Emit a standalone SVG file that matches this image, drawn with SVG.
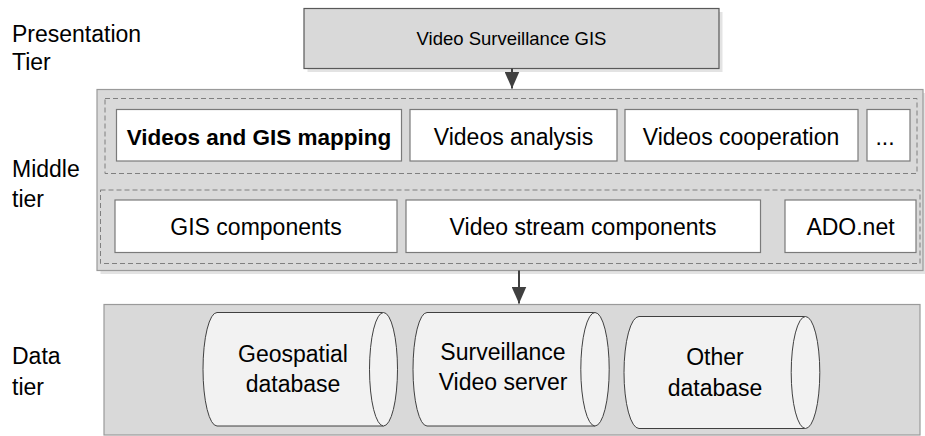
<svg xmlns="http://www.w3.org/2000/svg" width="925" height="436" viewBox="0 0 925 436">
  <style>
    .lbl { font-family: "Liberation Sans", Arial, sans-serif; font-size: 23px; fill: #000; }
    .txt { font-family: "Liberation Sans", Arial, sans-serif; font-size: 23px; fill: #000; text-anchor: middle; }
    .bold { font-weight: bold; font-size: 22.5px; }
    .tier { fill: #d9d9d9; stroke: #9a9a9a; stroke-width: 1.2; }
    .shadow { fill: #e3e3e3; stroke: none; }
    .comp { fill: #ffffff; stroke: #7a7a7a; stroke-width: 1.2; }
    .dash { fill: none; stroke: #7f7f7f; stroke-width: 1; stroke-dasharray: 5 3; }
    .db { fill: #f2f2f2; stroke: #404040; stroke-width: 1; }
    .link { stroke: #404040; stroke-width: 2; fill: none; }
  </style>
  <defs>
    <!-- filled arrowhead, tip at the end of the line -->
    <marker id="arrow" markerUnits="userSpaceOnUse" markerWidth="17" markerHeight="15" viewBox="0 0 17 15" refX="17" refY="7.5" orient="auto">
      <path d="M0,0 L17,7.5 L0,15 Z" fill="#404040"/>
    </marker>
  </defs>

  <!-- tier captions -->
  <g id="tier-labels">
    <text class="lbl" x="12" y="41.5">Presentation</text>
    <text class="lbl" x="12" y="70">Tier</text>
    <text class="lbl" x="12" y="177">Middle</text>
    <text class="lbl" x="12" y="207">tier</text>
    <text class="lbl" x="12" y="364">Data</text>
    <text class="lbl" x="12" y="395">tier</text>
  </g>

  <!-- presentation tier -->
  <g id="video-surveillance-gis">
    <rect class="shadow" x="307.5" y="12" width="415" height="60"/>
    <rect x="304" y="8.5" width="415" height="60" fill="#d9d9d9" stroke="#595959" stroke-width="1.2"/>
    <text class="txt" x="511.5" y="45" style="font-size:18.5px">Video Surveillance GIS</text>
  </g>

  <!-- middle tier container -->
  <g id="middle-tier">
    <rect class="shadow" x="100.5" y="93" width="826" height="181"/>
    <rect class="tier" x="97" y="89.5" width="826" height="181"/>
    <rect class="dash" x="105" y="98.5" width="812" height="75"/>
    <rect class="dash" x="100.5" y="190" width="819.5" height="73.5"/>
  </g>

  <g id="videos-gis-mapping">
    <rect class="comp" x="116.5" y="109.5" width="285" height="51.5"/>
    <text class="txt bold" x="259" y="145">Videos and GIS mapping</text>
  </g>
  <g id="videos-analysis">
    <rect class="comp" x="410" y="109.5" width="207" height="51.5"/>
    <text class="txt" x="513.5" y="145">Videos analysis</text>
  </g>
  <g id="videos-cooperation">
    <rect class="comp" x="625" y="109.5" width="233" height="51.5"/>
    <text class="txt" x="741" y="145">Videos cooperation</text>
  </g>
  <g id="more-apps">
    <rect class="comp" x="867" y="109.5" width="43" height="51.5"/>
    <text class="txt" x="885" y="145">...</text>
  </g>

  <g id="gis-components">
    <rect class="comp" x="115" y="200" width="282" height="52.5"/>
    <text class="txt" x="256" y="235">GIS components</text>
  </g>
  <g id="video-stream-components">
    <rect class="comp" x="406" y="200" width="354.5" height="52.5"/>
    <text class="txt" x="583" y="235">Video stream components</text>
  </g>
  <g id="ado-net">
    <rect class="comp" x="785" y="200" width="131" height="52.5"/>
    <text class="txt" x="850.5" y="235">ADO.net</text>
  </g>

  <!-- data tier container -->
  <g id="data-tier">
    <rect class="tier" x="104" y="304.5" width="816" height="130.5"/>
  </g>

  <g id="geospatial-database">
    <path class="db" d="M217,312.5 L383.5,312.5 A14,56.75 0 0 1 383.5,426 L217,426 A14,56.75 0 0 1 217,312.5 Z"/>
    <path class="db" d="M383.5,312.5 A14,56.75 0 0 0 383.5,426" fill="none"/>
    <text class="txt" x="293" y="361.5">Geospatial</text>
    <text class="txt" x="293" y="391.5">database</text>
  </g>
  <g id="surveillance-video-server">
    <path class="db" d="M427,312.5 L595,312.5 A14.2,56.75 0 0 1 595,426 L427,426 A14,56.75 0 0 1 427,312.5 Z"/>
    <path class="db" d="M595,312.5 A14.2,56.75 0 0 0 595,426" fill="none"/>
    <text class="txt" x="503" y="360">Surveillance</text>
    <text class="txt" x="503" y="390">Video server</text>
  </g>
  <g id="other-database">
    <path class="db" d="M639,316.5 L805.5,316.5 A14.3,56 0 0 1 805.5,428.5 L639,428.5 A15,56 0 0 1 639,316.5 Z"/>
    <path class="db" d="M805.5,316.5 A14.3,56 0 0 0 805.5,428.5" fill="none"/>
    <text class="txt" x="715" y="365">Other</text>
    <text class="txt" x="715" y="396">database</text>
  </g>

  <!-- connectors between tiers -->
  <g id="connectors">
    <line class="link" x1="512" y1="68.5" x2="512" y2="88.5" marker-end="url(#arrow)"/>
    <line class="link" x1="519" y1="270.5" x2="519" y2="303.5" marker-end="url(#arrow)"/>
  </g>
</svg>
